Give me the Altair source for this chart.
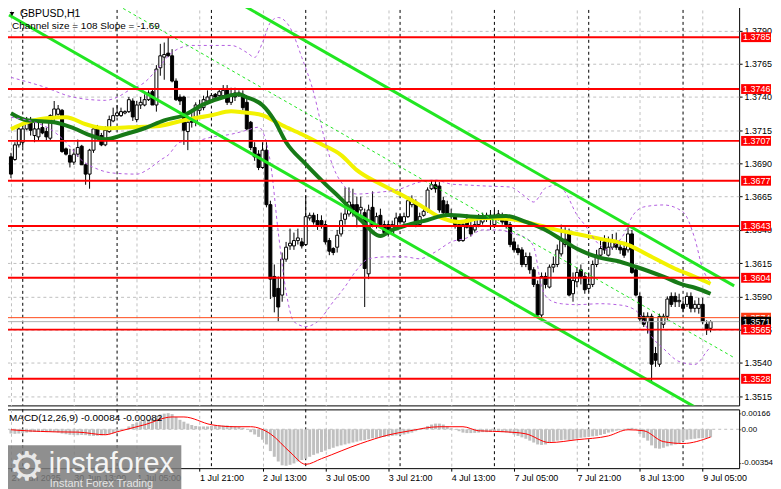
import altair as alt
import pandas as pd

FONT = "Liberation Sans"

# ---------------- data (GBPUSD H1, bar 0 = 27 Jun 2025 21:00) ----------------
opens = [1.3695, 1.3693, 1.3704, 1.3706, 1.3716, 1.3722, 1.3711, 1.3710, 1.3717, 1.3714,
         1.3709, 1.3725, 1.3727, 1.3730, 1.3701, 1.3696, 1.3691, 1.3697, 1.3703, 1.3689,
         1.3682, 1.3700, 1.3716, 1.3711, 1.3704, 1.3714, 1.3722, 1.3726, 1.3726, 1.3728,
         1.3729, 1.3737, 1.3723, 1.3734, 1.3734, 1.3738, 1.3744, 1.3734, 1.3762, 1.3770,
         1.3773, 1.3771, 1.3752, 1.3740, 1.3740, 1.3714, 1.3723, 1.3721, 1.3730, 1.3732,
         1.3737, 1.3737, 1.3742, 1.3741, 1.3741, 1.3746, 1.3736, 1.3743, 1.3743, 1.3742,
         1.3736, 1.3721, 1.3702, 1.3697, 1.3687, 1.3700, 1.3659, 1.3605, 1.3596, 1.3591,
         1.3618, 1.3628, 1.3628, 1.3632, 1.3631, 1.3629, 1.3649, 1.3651, 1.3647, 1.3647,
         1.3644, 1.3632, 1.3626, 1.3627, 1.3637, 1.3648, 1.3652, 1.3659, 1.3659, 1.3655,
         1.3653, 1.3607, 1.3657, 1.3644, 1.3651, 1.3644, 1.3644, 1.3637, 1.3642, 1.3650,
         1.3646, 1.3650, 1.3659, 1.3661, 1.3644, 1.3651, 1.3655, 1.3671, 1.3674, 1.3673,
         1.3662, 1.3659, 1.3650, 1.3650, 1.3644, 1.3632, 1.3648, 1.3642, 1.3640, 1.3644,
         1.3646, 1.3648, 1.3651, 1.3644, 1.3649, 1.3651, 1.3647, 1.3644, 1.3631, 1.3626,
         1.3625, 1.3614, 1.3620, 1.3610, 1.3599, 1.3576, 1.3605, 1.3597, 1.3612, 1.3614,
         1.3622, 1.3629, 1.3637, 1.3592, 1.3601, 1.3610, 1.3605, 1.3596, 1.3599, 1.3614,
         1.3621, 1.3631, 1.3621, 1.3627, 1.3631, 1.3627, 1.3626, 1.3625, 1.3637, 1.3610,
         1.3590, 1.3575, 1.3571, 1.3575, 1.3547, 1.3539, 1.3569, 1.3575, 1.3590, 1.3590,
         1.3586, 1.3584, 1.3584, 1.3590, 1.3581, 1.3581, 1.3584, 1.3569, 1.3566]
highs = [1.3698, 1.3706, 1.3718, 1.3719, 1.3725, 1.3725, 1.3721, 1.3722, 1.3721, 1.3717,
         1.3727, 1.3737, 1.3734, 1.3731, 1.3702, 1.3701, 1.3701, 1.3708, 1.3704, 1.3690,
         1.3701, 1.3718, 1.3719, 1.3713, 1.3718, 1.3726, 1.3732, 1.3734, 1.3732, 1.3730,
         1.3740, 1.3739, 1.3737, 1.3740, 1.3742, 1.3745, 1.3746, 1.3764, 1.3780, 1.3781,
         1.3785, 1.3776, 1.3754, 1.3742, 1.3741, 1.3725, 1.3728, 1.3736, 1.3738, 1.3741,
         1.3745, 1.3743, 1.3743, 1.3746, 1.3749, 1.3749, 1.3747, 1.3747, 1.3745, 1.3745,
         1.3739, 1.3722, 1.3706, 1.3700, 1.3706, 1.3706, 1.3662, 1.3614, 1.3605, 1.3623,
         1.3631, 1.3641, 1.3638, 1.3641, 1.3634, 1.3666, 1.3653, 1.3653, 1.3652, 1.3651,
         1.3647, 1.3634, 1.3627, 1.3640, 1.3653, 1.3672, 1.3672, 1.3671, 1.3665, 1.3665,
         1.3656, 1.3659, 1.3669, 1.3653, 1.3656, 1.3647, 1.3647, 1.3647, 1.3653, 1.3652,
         1.3653, 1.3665, 1.3666, 1.3663, 1.3653, 1.3657, 1.3672, 1.3677, 1.3677, 1.3676,
         1.3665, 1.3662, 1.3656, 1.3652, 1.3647, 1.3647, 1.3652, 1.3646, 1.3648, 1.3652,
         1.3653, 1.3653, 1.3655, 1.3655, 1.3655, 1.3653, 1.3650, 1.3646, 1.3634, 1.3629,
         1.3627, 1.3623, 1.3623, 1.3612, 1.3602, 1.3608, 1.3608, 1.3614, 1.3620, 1.3629,
         1.3644, 1.3642, 1.3641, 1.3608, 1.3612, 1.3614, 1.3608, 1.3608, 1.3617, 1.3625,
         1.3634, 1.3636, 1.3635, 1.3637, 1.3638, 1.3631, 1.3631, 1.3642, 1.3640, 1.3612,
         1.3593, 1.3578, 1.3578, 1.3577, 1.3552, 1.3577, 1.3577, 1.3590, 1.3593, 1.3593,
         1.3592, 1.3587, 1.3593, 1.3593, 1.3587, 1.3589, 1.3589, 1.3572, 1.3572]
lows = [1.3679, 1.3692, 1.3702, 1.3702, 1.3715, 1.3711, 1.3706, 1.3707, 1.3712, 1.3707,
        1.3707, 1.3722, 1.3726, 1.3698, 1.3696, 1.3687, 1.3689, 1.3695, 1.3689, 1.3674,
        1.3671, 1.3698, 1.3708, 1.3703, 1.3703, 1.3713, 1.3721, 1.3725, 1.3725, 1.3727,
        1.3728, 1.3722, 1.3721, 1.3731, 1.3733, 1.3737, 1.3734, 1.3729, 1.3756, 1.3753,
        1.3770, 1.3751, 1.3737, 1.3734, 1.3704, 1.3700, 1.3717, 1.3718, 1.3727, 1.3730,
        1.3736, 1.3736, 1.3738, 1.3740, 1.3740, 1.3734, 1.3734, 1.3737, 1.3740, 1.3730,
        1.3715, 1.3700, 1.3692, 1.3685, 1.3686, 1.3657, 1.3588, 1.3578, 1.3571, 1.3586,
        1.3616, 1.3625, 1.3625, 1.3629, 1.3626, 1.3628, 1.3647, 1.3644, 1.3640, 1.3641,
        1.3629, 1.3621, 1.3621, 1.3623, 1.3635, 1.3644, 1.3650, 1.3650, 1.3642, 1.3651,
        1.3582, 1.3603, 1.3642, 1.3641, 1.3642, 1.3636, 1.3635, 1.3636, 1.3641, 1.3644,
        1.3644, 1.3649, 1.3657, 1.3642, 1.3643, 1.3650, 1.3653, 1.3670, 1.3668, 1.3653,
        1.3652, 1.3650, 1.3647, 1.3641, 1.3631, 1.3631, 1.3641, 1.3635, 1.3638, 1.3642,
        1.3644, 1.3646, 1.3640, 1.3642, 1.3647, 1.3644, 1.3641, 1.3627, 1.3623, 1.3621,
        1.3612, 1.3612, 1.3607, 1.3597, 1.3575, 1.3572, 1.3596, 1.3596, 1.3608, 1.3612,
        1.3620, 1.3627, 1.3590, 1.3586, 1.3597, 1.3599, 1.3592, 1.3593, 1.3597, 1.3612,
        1.3620, 1.3622, 1.3620, 1.3625, 1.3625, 1.3622, 1.3619, 1.3623, 1.3607, 1.3590,
        1.3571, 1.3567, 1.3562, 1.3526, 1.3537, 1.3537, 1.3566, 1.3572, 1.3582, 1.3582,
        1.3582, 1.3578, 1.3582, 1.3578, 1.3578, 1.3577, 1.3569, 1.3561, 1.3563]
closes = [1.3682, 1.3704, 1.3716, 1.3716, 1.3720, 1.3715, 1.3716, 1.3716, 1.3713, 1.3710,
          1.3726, 1.3731, 1.3731, 1.3699, 1.3697, 1.3691, 1.3697, 1.3702, 1.3689, 1.3682,
          1.3700, 1.3716, 1.3710, 1.3704, 1.3715, 1.3723, 1.3726, 1.3728, 1.3729, 1.3729,
          1.3738, 1.3725, 1.3734, 1.3736, 1.3738, 1.3743, 1.3734, 1.3761, 1.3771, 1.3772,
          1.3771, 1.3752, 1.3738, 1.3737, 1.3715, 1.3721, 1.3721, 1.3734, 1.3734, 1.3738,
          1.3740, 1.3741, 1.3740, 1.3744, 1.3745, 1.3736, 1.3742, 1.3740, 1.3741, 1.3732,
          1.3716, 1.3702, 1.3695, 1.3687, 1.3700, 1.3659, 1.3603, 1.3590, 1.3582, 1.3618,
          1.3627, 1.3630, 1.3632, 1.3634, 1.3628, 1.3650, 1.3651, 1.3646, 1.3643, 1.3644,
          1.3631, 1.3624, 1.3623, 1.3636, 1.3647, 1.3652, 1.3661, 1.3655, 1.3653, 1.3657,
          1.3611, 1.3655, 1.3644, 1.3650, 1.3644, 1.3638, 1.3637, 1.3644, 1.3649, 1.3646,
          1.3650, 1.3662, 1.3663, 1.3644, 1.3650, 1.3654, 1.3670, 1.3674, 1.3671, 1.3655,
          1.3653, 1.3652, 1.3652, 1.3644, 1.3632, 1.3644, 1.3642, 1.3637, 1.3644, 1.3648,
          1.3650, 1.3651, 1.3648, 1.3651, 1.3652, 1.3646, 1.3644, 1.3629, 1.3625, 1.3623,
          1.3614, 1.3620, 1.3610, 1.3599, 1.3576, 1.3605, 1.3599, 1.3612, 1.3614, 1.3625,
          1.3632, 1.3633, 1.3591, 1.3602, 1.3608, 1.3605, 1.3595, 1.3599, 1.3614, 1.3621,
          1.3626, 1.3625, 1.3627, 1.3631, 1.3627, 1.3625, 1.3621, 1.3637, 1.3608, 1.3591,
          1.3573, 1.3569, 1.3575, 1.3539, 1.3542, 1.3575, 1.3575, 1.3588, 1.3584, 1.3586,
          1.3587, 1.3581, 1.3590, 1.3581, 1.3584, 1.3584, 1.3571, 1.3565, 1.3571]
bar_index = list(range(len(closes)))

# moving averages (at sample bars)
green_idx = [0, 4, 11, 16, 20, 24, 29, 34, 39, 44, 49, 54, 58, 60, 64, 67, 70, 75, 80, 84,
             89, 94, 97, 101, 106, 111, 120, 126, 131, 136, 141, 144, 150, 154, 159, 166, 171, 174, 178]
green_ma = [1.37278, 1.37225, 1.37210, 1.37165, 1.37113, 1.37083, 1.37120, 1.37165, 1.37225, 1.37263,
            1.37345, 1.37398, 1.37420, 1.37398, 1.37338, 1.37225, 1.37060, 1.36895, 1.36745, 1.36633,
            1.36475, 1.36355, 1.36400, 1.36438, 1.36475, 1.36513, 1.36498, 1.36505, 1.36460, 1.36400,
            1.36310, 1.36258, 1.36190, 1.36168, 1.36123, 1.36048, 1.35988, 1.35965, 1.35920]
yellow_idx = [0, 4, 9, 14, 19, 24, 30, 37, 44, 51, 56, 59, 64, 69, 74, 79, 84, 88, 94, 99,
              104, 109, 114, 120, 127, 134, 140, 144, 150, 157, 162, 169, 174, 178]
yellow_ma = [1.37158, 1.37210, 1.37240, 1.37248, 1.37195, 1.37165, 1.37173, 1.37180, 1.37225, 1.37263,
             1.37293, 1.37285, 1.37263, 1.37188, 1.37120, 1.37045, 1.36963, 1.36850, 1.36745, 1.36670,
             1.36588, 1.36498, 1.36460, 1.36490, 1.36483, 1.36438, 1.36393, 1.36370, 1.36333, 1.36288,
             1.36213, 1.36108, 1.36048, 1.35995]

# envelope bands (purple dashed)
upper_idx = [0, 8, 16, 24, 27, 30, 34, 38, 41, 46, 56, 60, 62, 64, 66, 68, 71, 74, 77, 80,
             82, 85, 88, 94, 98, 104, 108, 112, 116, 121, 127, 130, 133, 136, 139, 141, 144, 146, 149, 152,
             154, 156, 158, 161, 166, 171, 174, 176, 178]
upper_band = [1.37548, 1.37480, 1.37398, 1.37375, 1.37398, 1.37450, 1.37510, 1.37638, 1.37735, 1.37788,
              1.37788, 1.37735, 1.37698, 1.37810, 1.37960, 1.37998, 1.37923, 1.37698, 1.37435, 1.37060,
              1.36873, 1.36723, 1.36670, 1.36685, 1.36700, 1.36760, 1.36775, 1.36745, 1.36738, 1.36730,
              1.36723, 1.36670, 1.36610, 1.36715, 1.36738, 1.36685, 1.36513, 1.36438, 1.36310, 1.36250,
              1.36295, 1.36370, 1.36498, 1.36573, 1.36588, 1.36535, 1.36333, 1.36108, 1.36010]
lower_idx = [0, 10, 14, 18, 22, 26, 32, 35, 38, 40, 43, 48, 51, 56, 60, 63, 66, 68, 70, 72,
             75, 78, 82, 85, 88, 91, 96, 100, 104, 108, 112, 116, 120, 124, 128, 131, 133, 135, 137, 140,
             144, 150, 154, 157, 160, 163, 166, 170, 174, 177, 178]
lower_band = [1.37248, 1.37158, 1.37060, 1.36925, 1.36858, 1.36828, 1.36820, 1.36858, 1.36925, 1.36963,
              1.37060, 1.37075, 1.37098, 1.37120, 1.37150, 1.37173, 1.36910, 1.36385, 1.35935, 1.35710,
              1.35673, 1.35710, 1.35860, 1.35973, 1.36100, 1.36183, 1.36198, 1.36198, 1.36183, 1.36235,
              1.36310, 1.36340, 1.36400, 1.36400, 1.36370, 1.36340, 1.36273, 1.35973, 1.35875, 1.35845,
              1.35838, 1.35845, 1.35838, 1.35823, 1.35763, 1.35598, 1.35508, 1.35410, 1.35388, 1.35485,
              1.35523]

# equidistant channel (size 108 pips, slope -1.69 pips/bar)
channel_idx = [-0.5, 184.0]
channel_lower = [1.38017, 1.34899]
channel_size = 0.0108

levels = [1.3785, 1.3746, 1.3707, 1.3677, 1.3643, 1.3604, 1.3528, 1.3565]
ask_price = 1.3574
bid_price = 1.3571
price_ticks = [1.3515, 1.3540, 1.3565, 1.3590, 1.3615, 1.3640, 1.3665, 1.3690, 1.3715, 1.3740, 1.3765, 1.3790]

time_tick_idx = [0, 16, 32, 48, 64, 80, 96, 112, 128, 144, 160, 176]
time_tick_labels = ["27 Jun 2025", "30 Jun 13:00", "1 Jul 05:00", "1 Jul 21:00", "2 Jul 13:00",
                    "3 Jul 05:00", "3 Jul 21:00", "4 Jul 13:00", "7 Jul 05:00", "7 Jul 21:00",
                    "8 Jul 13:00", "9 Jul 05:00"]
day_sep_idx = [3, 27, 51, 75, 99, 123, 147, 171]

macd_hist = [-0.00045, -0.00048, -0.00045, -0.00040, -0.00035,
             -0.00030, -0.00028, -0.00027, -0.00027, -0.00030, -0.00028, -0.00030, -0.00035,
             -0.00045, -0.00052, -0.00058, -0.00060, -0.00062, -0.00060, -0.00062,
             -0.00068, -0.00070, -0.00068, -0.00065, -0.00060,
             -0.00050, -0.00042, -0.00030,
             -0.00010, 0.00005, 0.00030,
             0.00055, 0.00070, 0.00085, 0.00095, 0.00105,
             0.00110, 0.00140, 0.00155, 0.00165, 0.00170, 0.00160, 0.00130,
             0.00100, 0.00080, 0.00060, 0.00045,
             0.00035, 0.00030, 0.00030, 0.00030,
             0.00035, 0.00040, 0.00040, 0.00040, 0.00040, 0.00035, 0.00030, 0.00025, 0.00015, 0.00000,
             -0.00030, -0.00055, -0.00080, -0.00110,
             -0.00160, -0.00230, -0.00290,
             -0.00340, -0.00380, -0.00385, -0.00375, -0.00360,
             -0.00340, -0.00325, -0.00310, -0.00290, -0.00270,
             -0.00255, -0.00240, -0.00225, -0.00210, -0.00195,
             -0.00180, -0.00170, -0.00160, -0.00150, -0.00140, -0.00130, -0.00120, -0.00115,
             -0.00105, -0.00095, -0.00090, -0.00085, -0.00080, -0.00075, -0.00070, -0.00065,
             -0.00060, -0.00055, -0.00045, -0.00035,
             -0.00020, -0.00005, 0.00015, 0.00035, 0.00050, 0.00060, 0.00060, 0.00050,
             0.00030, 0.00010, -0.00005, -0.00020, -0.00035, -0.00040, -0.00040, -0.00038,
             -0.00035, -0.00030, -0.00030, -0.00028, -0.00025, -0.00028, -0.00030, -0.00035,
             -0.00040, -0.00055, -0.00070, -0.00085, -0.00100, -0.00120, -0.00140, -0.00160, -0.00165, -0.00160,
             -0.00145, -0.00130, -0.00120, -0.00115, -0.00110, -0.00115, -0.00110, -0.00100, -0.00090, -0.00085,
             -0.00080, -0.00075, -0.00070, -0.00060, -0.00050, -0.00035, -0.00025, -0.00015, -0.00010, -0.00005,
             0.00010, 0.00015, 0.00005, -0.00050, -0.00090, -0.00120, -0.00170, -0.00200, -0.00205, -0.00195,
             -0.00180, -0.00170, -0.00160, -0.00145, -0.00125, -0.00110, -0.00105, -0.00100, -0.00095, -0.00095,
             -0.00090, -0.00084]
signal_idx = [0, 4, 11, 17, 24, 27, 34, 41, 44, 51, 57, 61, 66, 71, 75, 79, 89, 96, 101, 109,
              115, 119, 126, 131, 137, 144, 152, 157, 161, 166, 171, 178]
signal_vals = [-0.00005, -0.00016, -0.00027, -0.00030, -0.00058, -0.00027, 0.00048, 0.00130, 0.00130, 0.00048,
               0.00027, 0.00027, -0.00048, -0.00240, -0.00370, -0.00310, -0.00150, -0.00060, -0.00020, 0.00027,
               0.00027, -0.00016, -0.00027, -0.00048, -0.00140, -0.00110, -0.00070, -0.00005, -0.00016, -0.00130,
               -0.00150, -0.00082]
macd_ticks = [0.00166, 0.0, -0.00354]
macd_tick_labels = ["0.00166", "0.00", "-0.00354"]

# ---------------- scales & axes ----------------
XS = alt.Scale(domain=[-0.5, 184.0], nice=False, zero=False)
YP = alt.Scale(domain=[1.3508, 1.3810], nice=False, zero=False)
YM = alt.Scale(domain=[-0.0041, 0.0021], nice=False, zero=False)
GRID = "#C0C0C0"
AX = dict(labelFont=FONT, labelColor="black", title=None, domain=False, tickColor="black")

time_expr = ("[" + ",".join("'%s'" % s for s in time_tick_labels) + "][indexof(["
             + ",".join(str(v) for v in time_tick_idx) + "], datum.value)]")
macd_expr = ("[" + ",".join("'%s'" % s for s in macd_tick_labels) + "][indexof(["
             + ",".join(repr(v) for v in macd_ticks) + "], datum.value)]")

X_MAIN = alt.Axis(values=time_tick_idx, grid=True, gridColor=GRID, gridDash=[3, 3],
                  labels=False, ticks=False, domain=False, title=None)
Y_MAIN = alt.Axis(orient="right", values=price_ticks, format=".4f", grid=True, gridColor=GRID,
                  gridDash=[3, 3], labelPadding=2, tickSize=3, labelFontSize=9, **AX)
X_MACD = alt.Axis(values=time_tick_idx, labelExpr=time_expr, grid=True, gridColor=GRID,
                  gridDash=[3, 3], labelAlign="left", labelBaseline="top", labelPadding=2,
                  tickSize=3, labelOverlap=False, labelFlush=False, labelBound=False,
                  labelFontSize=9, **AX)
Y_MACD = alt.Axis(orient="right", values=macd_ticks, labelExpr=macd_expr, grid=False,
                  labelPadding=1, tickSize=1, labelOverlap=False, labelFontSize=8, **AX)


def xm(field="i"):
    return alt.X(f"{field}:Q", scale=XS, axis=X_MAIN)


def yp(field):
    return alt.Y(f"{field}:Q", scale=YP, axis=Y_MAIN)


def xd(field="i"):
    return alt.X(f"{field}:Q", scale=XS, axis=X_MACD)


def ym(field):
    return alt.Y(f"{field}:Q", scale=YM, axis=Y_MACD)


candles = pd.DataFrame({"i": bar_index, "open": opens, "high": highs, "low": lows, "close": closes})

seps = alt.Chart(pd.DataFrame({"i": day_sep_idx})).mark_rule(
    color="black", strokeDash=[3, 3], strokeWidth=1).encode(x=xm())

wicks = alt.Chart(candles).mark_rule(color="black", strokeWidth=1).encode(
    x=xm(), y=yp("low"), y2="high:Q")
bodies = alt.Chart(candles).mark_bar(width=3, stroke="black", strokeWidth=1).encode(
    x=xm(), y=yp("open"), y2="close:Q",
    fill=alt.condition("datum.close >= datum.open", alt.value("white"), alt.value("black")))

yellow_line = alt.Chart(pd.DataFrame({"i": yellow_idx, "v": yellow_ma})).mark_line(
    color="#f2f200", strokeWidth=4, interpolate="monotone", clip=True).encode(x=xm(), y=yp("v"))
green_line = alt.Chart(pd.DataFrame({"i": green_idx, "v": green_ma})).mark_line(
    color="#177a17", strokeWidth=4, interpolate="monotone", clip=True).encode(x=xm(), y=yp("v"))
up_band = alt.Chart(pd.DataFrame({"i": upper_idx, "v": upper_band})).mark_line(
    color="#b35ee0", strokeWidth=1, strokeDash=[3, 3], interpolate="monotone", clip=True).encode(x=xm(), y=yp("v"))
lo_band = alt.Chart(pd.DataFrame({"i": lower_idx, "v": lower_band})).mark_line(
    color="#b35ee0", strokeWidth=1, strokeDash=[3, 3], interpolate="monotone", clip=True).encode(x=xm(), y=yp("v"))

ch = pd.DataFrame({"i": channel_idx, "lower": channel_lower})
ch_base = alt.Chart(ch).transform_calculate(
    upper=f"datum.lower + {channel_size}", mid=f"datum.lower + {channel_size / 2}")
ch_lower = ch_base.mark_line(color="#22e622", strokeWidth=3, clip=True).encode(x=xm(), y=yp("lower"))
ch_upper = ch_base.mark_line(color="#22e622", strokeWidth=3, clip=True).encode(x=xm(), y=yp("upper"))
ch_mid = ch_base.mark_line(color="#22e622", strokeWidth=1, strokeDash=[3, 3], clip=True).encode(x=xm(), y=yp("mid"))

lvl_df = pd.DataFrame({"level": levels})
lvl_rules = alt.Chart(lvl_df).mark_rule(color="#ff0000", strokeWidth=2).encode(y=yp("level"))
ask_rule = alt.Chart(pd.DataFrame({"level": [ask_price]})).mark_rule(
    color="#ff4a1a", strokeWidth=1).encode(y=yp("level"))
bid_rule = alt.Chart(pd.DataFrame({"level": [bid_price]})).mark_rule(
    color="#b0b0b0", strokeWidth=1).encode(y=yp("level"))


def tag(values, color):
    d = pd.DataFrame({"level": values})
    rect = alt.Chart(d).transform_calculate(
        lo="datum.level - 0.00037", hi="datum.level + 0.00037").mark_rect(color=color).encode(
        x=alt.value(740), x2=alt.value(770), y=yp("lo"), y2="hi:Q")
    txt = alt.Chart(d).mark_text(align="left", baseline="middle", color="white", font=FONT,
                                 fontSize=9).encode(
        x=alt.value(742), y=yp("level"), text=alt.Text("level:Q", format=".4f"))
    return [rect, txt]


def label(text, x, y, size=9.5, color="black", font=FONT, align="left"):
    return alt.Chart(pd.DataFrame({"t": [text]})).mark_text(
        align=align, baseline="middle", font=font, fontSize=size, color=color).encode(
        x=alt.value(x), y=alt.value(y), text="t:N")


tri = alt.Chart(pd.DataFrame({"t": [0]})).mark_point(
    shape="triangle-down", filled=True, color="black", size=22, opacity=1).encode(
    x=alt.value(8), y=alt.value(10))

main = alt.layer(
    seps, wicks, bodies, yellow_line, green_line, up_band, lo_band,
    ch_lower, ch_upper, ch_mid, lvl_rules, ask_rule, bid_rule,
    *tag([ask_price], "#ff3c14"), *tag([bid_price], "black"), *tag(levels, "#ff0000"),
    tri, label("GBPUSD,H1", 16, 10.5, 10.5), label("Channel size = 108 Slope = -1.69", 8, 22.5, 10),
).properties(width=738, height=403)

# ---------------- MACD panel ----------------
hist = pd.DataFrame({"i": bar_index, "h": macd_hist})
macd_seps = alt.Chart(pd.DataFrame({"i": day_sep_idx})).mark_rule(
    color="black", strokeDash=[3, 3], strokeWidth=1).encode(x=xd())
zero_line = alt.Chart(pd.DataFrame({"h": [0.0]})).mark_rule(
    color=GRID, strokeDash=[3, 3], strokeWidth=1).encode(y=ym("h"))
bars = alt.Chart(hist).mark_bar(width=3, color="#c0c0c0").encode(x=xd(), y=ym("h"), y2=alt.datum(0))
signal = alt.Chart(pd.DataFrame({"i": signal_idx, "h": signal_vals})).mark_line(
    color="#ff0000", strokeWidth=1, interpolate="monotone").encode(x=xd(), y=ym("h"))

wm_box = alt.Chart(pd.DataFrame({"t": [0]})).mark_rect(color="#7b7b7b", opacity=0.85).encode(
    x=alt.value(0), x2=alt.value(178), y=alt.value(36), y2=alt.value(82))

macd = alt.layer(
    macd_seps, zero_line, bars, signal,
    label("MACD(12,26,9) -0.00084 -0.00082", 5, 9, 10),
    wm_box,
    label("\u2699", 23, 59, 40, "#e8e8e8", "DejaVu Sans", "center"),
    label("instaforex", 45, 55, 29, "#f4f4f4"),
    label("Instant Forex Trading", 46, 75, 11, "#e4e4e4"),
).properties(width=738, height=59)

chart = alt.vconcat(main, macd, spacing=2).properties(
    padding={"left": -6, "top": -6, "right": -1, "bottom": 0}, background="white"
).configure_view(stroke="black", strokeWidth=1)

chart.save("out.html", embed_options={"renderer": "svg", "actions": False})
